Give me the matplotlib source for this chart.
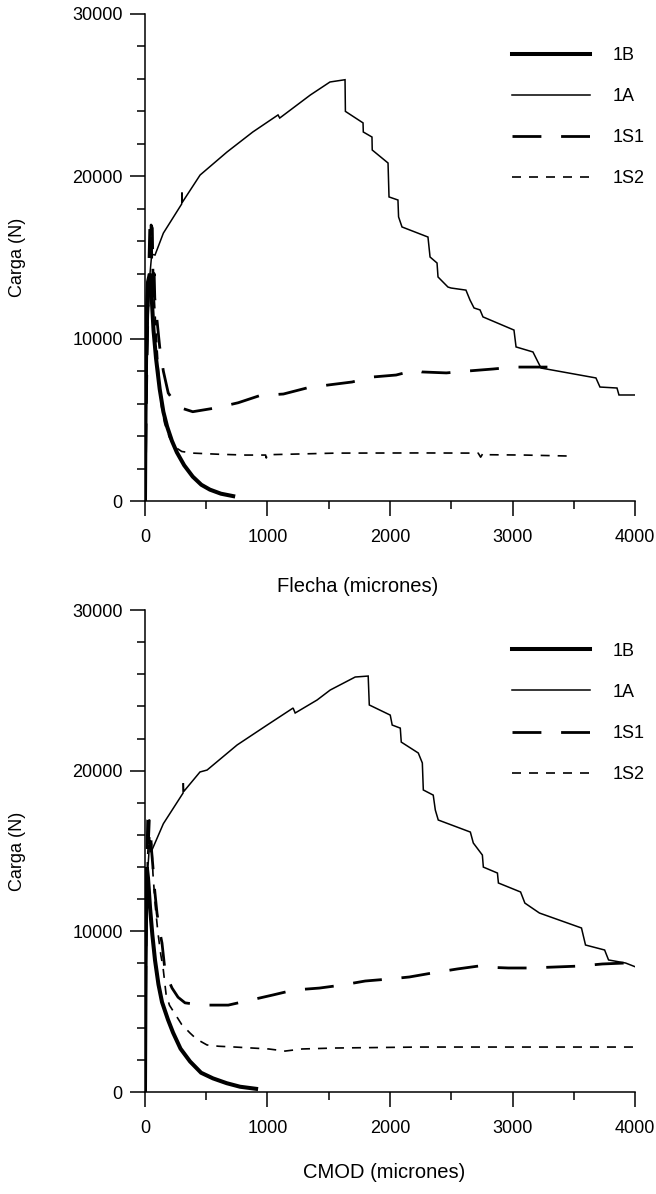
import matplotlib

matplotlib.use("Agg")

import matplotlib.pyplot as plt
from matplotlib.ticker import MultipleLocator

plt.rcParams["font.family"] = ["Liberation Sans", "DejaVu Sans"]

# ---- Flecha (top panel) ----
fl_1b_x = [0, 5, 12, 25, 40, 55, 70, 90, 120, 150, 180, 220, 260, 320, 390, 460, 530, 620, 720]
fl_1b_y = [0, 6000, 11000, 13500, 14000, 12500, 10500, 8800, 6900, 5500, 4600, 3700, 3000,
           2200, 1500, 1000, 700, 450, 300]

fl_1a_x = [0, 15, 35, 55, 82, 150, 300, 302, 305, 450, 670, 880, 1086, 1100, 1350, 1510, 1633,
           1636, 1780, 1782, 1853, 1855, 1984, 1992, 2065, 2070, 2098, 2310, 2327, 2384, 2392,
           2473, 2498, 2620, 2653, 2686, 2735, 2759, 3012, 3029, 3167, 3200, 3233, 3681, 3714,
           3853, 3869, 4000]
fl_1a_y = [0, 8000, 13500, 15200, 15150, 16500, 18300, 19000, 18400, 20080, 21500, 22730, 23780,
           23590, 25010, 25810, 25950, 24000, 23290, 22730, 22420, 21620, 20820, 18730, 18540,
           17500, 16880, 16260, 15030, 14660, 13800, 13180, 13120, 12990, 12380, 11890, 11770,
           11340, 10530, 9490, 9180, 8680, 8190, 7580, 7020, 6960, 6530, 6530]

fl_1s1_x = [0, 15, 30, 40, 50, 55, 45, 50, 60, 65, 55, 70, 60, 75, 80, 100, 120, 150, 190, 270,
            390, 575, 760, 940, 1130, 1320, 1500, 1690, 1860, 2050, 2210, 2260, 2460, 2640, 2840,
            3010, 3400]
fl_1s1_y = [0, 8000, 14000, 17000, 17100, 15000, 15200, 17000, 16800, 14000, 13800, 13000, 12600,
            14000, 12500, 11000, 9500, 8000, 6650, 5790, 5500, 5730, 6050, 6500, 6590, 6960, 7150,
            7330, 7640, 7760, 8070, 7950, 7890, 8010, 8130, 8250, 8250]

fl_1s2_x = [0, 15, 35, 45, 55, 65, 75, 90, 110, 135, 160, 200, 250, 300, 390, 600, 820, 985, 990,
            1000, 1560, 2245, 2720, 2740, 2760, 2800, 3100, 3460]
fl_1s2_y = [0, 9000, 13500, 14000, 12800, 13900, 12600, 10500, 8000, 5800, 4800, 3900, 3300, 3050,
            2950, 2880, 2830, 2830, 2650, 2850, 2950, 2960, 2950, 2700, 2950, 2850, 2830, 2770]

# ---- CMOD (bottom panel) ----
cm_1b_x = [0, 5, 10, 15, 25, 41, 60, 82, 110, 139, 188, 229, 290, 368, 458, 555, 667, 776, 907]
cm_1b_y = [0, 8000, 13000, 14000, 13300, 11500, 9800, 8200, 6700, 5600, 4500, 3700, 2700, 1900,
           1200, 850, 550, 330, 200]

cm_1a_x = [0, 10, 20, 35, 57, 150, 311, 313, 316, 449, 507, 752, 997, 1209, 1226, 1405, 1512,
           1716, 1822, 1831, 2002, 2018, 2084, 2092, 2231, 2264, 2272, 2353, 2370, 2394, 2656,
           2680, 2754, 2762, 2877, 2885, 3066, 3101, 3220, 3563, 3596, 3752, 3784, 3923, 4000]
cm_1a_y = [0, 8000, 13500, 15200, 15060, 16700, 18610, 19230, 18700, 19920, 20040, 21600, 22840,
           23900, 23590, 24400, 25020, 25830, 25890, 24090, 23460, 22840, 22650, 21780, 21100,
           20480, 18800, 18480, 17550, 16930, 16180, 15500, 14750, 14000, 13630, 13010, 12450,
           11760, 11140, 10210, 9150, 8840, 8220, 8030, 7800]

cm_1s1_x = [0, 8, 15, 22, 30, 35, 28, 35, 45, 52, 65, 80, 98, 120, 139, 163, 190, 221, 270, 327,
            466, 680, 860, 1044, 1215, 1423, 1610, 1798, 1986, 2158, 2346, 2550, 2722, 2759, 2966,
            3137, 3342, 3547, 3734, 3923]
cm_1s1_y = [0, 9000, 14000, 16900, 17000, 15500, 15600, 16900, 16500, 15200, 14000, 12500, 11140,
            10000, 9270, 7590, 7000, 6470, 5900, 5550, 5410, 5410, 5720, 6040, 6350, 6470, 6660,
            6910, 7030, 7160, 7410, 7660, 7840, 7780, 7720, 7720, 7780, 7840, 7970, 8030]

cm_1s2_x = [0, 10, 20, 30, 40, 55, 65, 85, 106, 130, 147, 172, 200, 261, 300, 368, 420, 506, 600,
            735, 1010, 1144, 1283, 1559, 2245, 2930, 4000]
cm_1s2_y = [0, 10000, 14500, 15800, 14800, 15500, 13600, 11500, 9900, 8500, 7780, 6100, 5400, 4670,
            4200, 3670, 3300, 2930, 2850, 2800, 2680, 2550, 2680, 2740, 2800, 2800, 2800]

labels = ["1B", "1A", "1S1", "1S2"]
x_labels = ["Flecha (micrones)", "CMOD (micrones)"]


def styles():
    # thick solid, thin solid, long dash, short dash
    return [
        dict(color="black", lw=2.9, ls="-"),
        dict(color="black", lw=1.1, ls="-"),
        dict(color="black", lw=2.0, ls=(0, (10.4, 7.1))),
        dict(color="black", lw=1.2, ls=(0, (5.4, 4.8))),
    ]


def setup_axis(ax):
    ax.set_xlim(0, 4000)
    ax.set_ylim(0, 30000)
    ax.spines["top"].set_visible(False)
    ax.spines["right"].set_visible(False)
    for side in ("left", "bottom"):
        ax.spines[side].set_linewidth(1.1)
    ax.xaxis.set_major_locator(MultipleLocator(1000))
    ax.xaxis.set_minor_locator(MultipleLocator(500))
    ax.yaxis.set_major_locator(MultipleLocator(10000))
    ax.yaxis.set_minor_locator(MultipleLocator(2000))
    ax.tick_params(which="major", direction="out", length=11, width=1.1, labelsize=13)
    ax.tick_params(axis="y", which="major", pad=5)
    ax.tick_params(axis="x", which="major", pad=9)
    ax.tick_params(which="minor", direction="out", length=6, width=1.1)


fig = plt.figure(figsize=(6.56, 11.94), dpi=100)
ax_top = fig.add_axes([0.221, 0.5804, 0.747, 0.4079])
ax_bot = fig.add_axes([0.221, 0.0854, 0.747, 0.4037])

panels = [
    (ax_top, [(fl_1b_x, fl_1b_y), (fl_1a_x, fl_1a_y), (fl_1s1_x, fl_1s1_y), (fl_1s2_x, fl_1s2_y)]),
    (ax_bot, [(cm_1b_x, cm_1b_y), (cm_1a_x, cm_1a_y), (cm_1s1_x, cm_1s1_y), (cm_1s2_x, cm_1s2_y)]),
]

for ax, series in panels:
    setup_axis(ax)
    for (xs, ys), lab, st in zip(series, labels, styles()):
        ax.plot(xs, ys, label=lab, solid_joinstyle="miter", **st)
    ax.legend(
        loc="upper left",
        bbox_to_anchor=(0.749, 0.932),
        frameon=False,
        fontsize=13,
        handlelength=4.3,
        handletextpad=1.3,
        labelspacing=1.33,
        borderpad=0,
        borderaxespad=0,
    )

fig.text(18 / 656, 1 - 257 / 1194, "Carga (N)", rotation=90, ha="center", va="center", fontsize=13)
fig.text(18 / 656, 1 - 851 / 1194, "Carga (N)", rotation=90, ha="center", va="center", fontsize=13)
fig.text(358 / 656, 1 - 587 / 1194, x_labels[0], ha="center", va="center", fontsize=14.5)
fig.text(384 / 656, 1 - 1173 / 1194, x_labels[1], ha="center", va="center", fontsize=14.5)

fig.savefig("out.png", dpi=100, facecolor="white")
